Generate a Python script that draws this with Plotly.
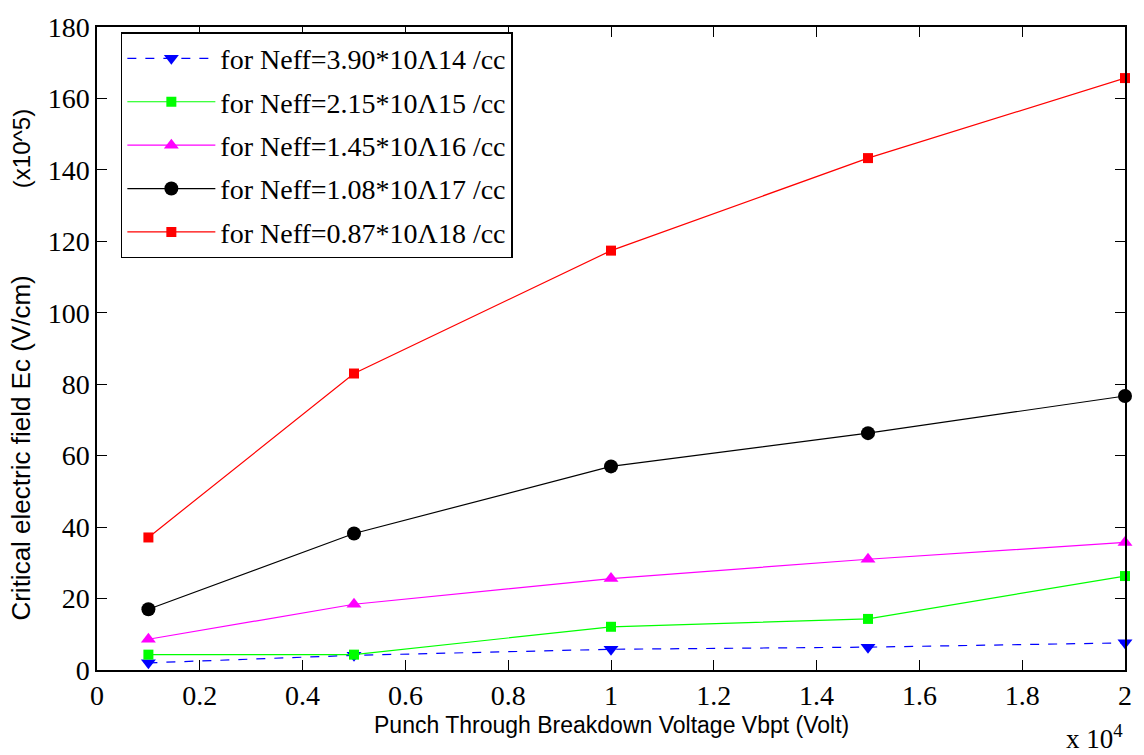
import plotly.graph_objects as go

# Data (x in units of 10^4 V, y in units of 10^5 V/cm)
vbpt = [0.1, 0.5, 1.0, 1.5, 2.0]
ec_n14 = [2.0, 4.1, 5.8, 6.4, 7.6]
ec_n15 = [4.3, 4.3, 12.1, 14.3, 26.3]
ec_n16 = [8.6, 18.4, 25.6, 31.0, 35.7]
ec_n17 = [17.0, 38.2, 57.0, 66.3, 76.7]
ec_n18 = [37.1, 83.0, 117.4, 143.3, 165.7]

names = [
    "for Neff=3.90*10\u039b14 /cc",
    "for Neff=2.15*10\u039b15 /cc",
    "for Neff=1.45*10\u039b16 /cc",
    "for Neff=1.08*10\u039b17 /cc",
    "for Neff=0.87*10\u039b18 /cc",
]
x_title = "Punch Through Breakdown Voltage Vbpt (Volt)"
y_title = "Critical electric field Ec (V/cm)"
y_unit = "(x10^5)"

series = [
    (ec_n14, names[0], "#0000ff", "dash", "triangle-down", 13),
    (ec_n15, names[1], "#00ff00", "solid", "square", 10),
    (ec_n16, names[2], "#ff00ff", "solid", "triangle-up", 13),
    (ec_n17, names[3], "#000000", "solid", "circle", 14),
    (ec_n18, names[4], "#ff0000", "solid", "square", 10),
]

fig = go.Figure()
for i, (ys, nm, col, dash, sym, sz) in enumerate(series):
    fig.add_trace(go.Scatter(
        x=vbpt, y=ys, name=nm, mode="lines+markers",
        line=dict(color=col, width=1.2, dash=dash),
        marker=dict(color=col, symbol=sym, size=sz, line=dict(width=0)),
        cliponaxis=False, legendgroup=f"g{i}",
    ))

serif = "Times New Roman"
sans = "Liberation Sans, Arial, sans-serif"

fig.update_layout(
    width=1144, height=755,
    margin=dict(l=97, r=13, t=15, b=85),
    font=dict(family=serif, color="black", size=28),
    paper_bgcolor="white", plot_bgcolor="white",
    showlegend=True,
    legend=dict(
        x=0.0232, y=0.992, xanchor="left", yanchor="top",
        bgcolor="white", bordercolor="black", borderwidth=1.5,
        font=dict(family=serif, size=28, color="black"),
        tracegroupgap=4, itemwidth=88,
    ),
    annotations=[
        dict(text=x_title, xref="paper", yref="paper", x=0.5, y=-0.085,
             xanchor="center", yanchor="middle", showarrow=False,
             font=dict(family=sans, size=23, color="black")),
        dict(text=y_title, xref="paper", yref="paper", x=(21 - 97) / 1034,
             y=(670 - 444) / 655, xanchor="center", yanchor="middle",
             textangle=-90, showarrow=False,
             font=dict(family=sans, size=26, color="black")),
        dict(text=y_unit, xref="paper", yref="paper", x=(21 - 97) / 1034,
             y=(670 - 139) / 655, xanchor="center", yanchor="middle",
             textangle=-90, showarrow=False,
             font=dict(family=sans, size=24, color="black")),
        dict(text="x 10<sup>4</sup>", xref="paper", yref="paper",
             x=1.0, y=(670 - 738) / 655, xanchor="right", yanchor="middle",
             showarrow=False,
             font=dict(family=serif, size=27, color="black")),
    ],
)

for upd, rng, dt in ((fig.update_xaxes, [0, 2], 0.2), (fig.update_yaxes, [0, 180], 20)):
    upd(
        range=rng, dtick=dt, tick0=0,
        showline=True, linecolor="black", linewidth=1.5, mirror="allticks",
        ticks="inside", ticklen=10, tickwidth=1, tickcolor="black",
        showgrid=False, zeroline=False, ticklabeloverflow="allow",
        tickfont=dict(family=serif, size=28, color="black"),
    )

fig.write_html("out.html")
